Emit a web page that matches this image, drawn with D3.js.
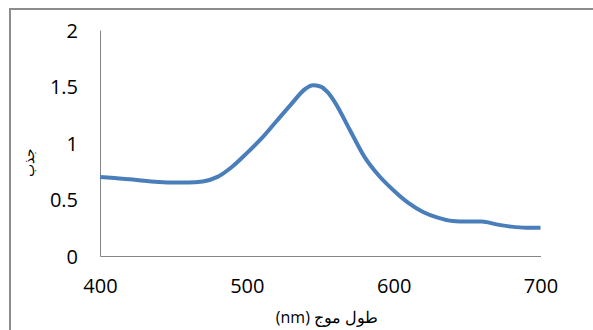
<!DOCTYPE html>
<html>
<head>
<meta charset="utf-8">
<script src="https://cdn.jsdelivr.net/npm/d3@7"></script>
<style>
  html, body { margin: 0; padding: 0; background: #fff; }
  svg { display: block; }
  text { font-family: "Open Sans", "Noto Sans", sans-serif; fill: #000; }
</style>
</head>
<body>
<svg id="chart" width="593" height="330"></svg>
<script>
// Data
const wavelengths = [400, 410, 420, 430, 440, 450, 460, 470, 480, 490, 500, 510, 520, 530, 540, 545, 550, 555, 560, 570, 580, 590, 600, 610, 620, 630, 640, 650, 660, 670, 680, 690, 700];
const absorbance  = [0.70, 0.69, 0.68, 0.665, 0.655, 0.65, 0.65, 0.66, 0.70, 0.79, 0.91, 1.04, 1.19, 1.34, 1.48, 1.51, 1.50, 1.45, 1.36, 1.12, 0.88, 0.71, 0.58, 0.47, 0.39, 0.34, 0.31, 0.305, 0.305, 0.28, 0.26, 0.25, 0.25];
const xTicks = [400, 500, 600, 700];
const yTicks = [0, 0.5, 1, 1.5, 2];
const xTitle = "طول موج (nm)";
const yTitle = "جذب";

const svg = d3.select("#chart");

// outer chart frame (cropped on the right and bottom)
svg.append("rect")
  .attr("x", 10).attr("y", 9)
  .attr("width", 620).attr("height", 360)
  .attr("fill", "none")
  .attr("stroke", "#8c8c8c")
  .attr("stroke-width", 2);

const x = d3.scaleLinear().domain([400, 700]).range([100, 540.5]);
const y = d3.scaleLinear().domain([0, 2]).range([256, 30]);

const axisColor = "#868686";

// y axis
const gy = svg.append("g")
  .attr("transform", `translate(${x(400)},0)`)
  .call(d3.axisLeft(y).tickValues(yTicks).tickSize(0).tickPadding(22).tickFormat(d3.format("")));
gy.select(".domain").attr("stroke", axisColor).attr("stroke-width", 1);
gy.selectAll("text").style("font-size", "20px").attr("fill", "#000").attr("dy", "0.35em");

// x axis
const gx = svg.append("g")
  .attr("transform", `translate(0,${y(0)})`)
  .call(d3.axisBottom(x).tickValues(xTicks).tickSize(0).tickPadding(23).tickFormat(d3.format("")));
gx.select(".domain").attr("stroke", axisColor).attr("stroke-width", 1);
gx.selectAll("text").style("font-size", "20px").attr("fill", "#000");

// line
const data = wavelengths.map((w, i) => [w, absorbance[i]]);
svg.append("path")
  .datum(data)
  .attr("fill", "none")
  .attr("stroke", "#4a7ebb")
  .attr("stroke-width", 4)
  .attr("stroke-linejoin", "round")
  .attr("stroke-linecap", "butt")
  .attr("d", d3.line().x(d => x(d[0])).y(d => y(d[1])).curve(d3.curveMonotoneX));

// axis titles
svg.append("text")
  .attr("x", 327).attr("y", 319)
  .attr("text-anchor", "middle")
  .attr("direction", "rtl")
  .attr("dominant-baseline", "middle")
  .style("font-size", "16px")
  .text(xTitle);

svg.append("text")
  .attr("transform", "translate(30,162) rotate(-90)")
  .attr("text-anchor", "middle")
  .attr("dominant-baseline", "middle")
  .style("font-size", "14px")
  .text(yTitle);
</script>
</body>
</html>
